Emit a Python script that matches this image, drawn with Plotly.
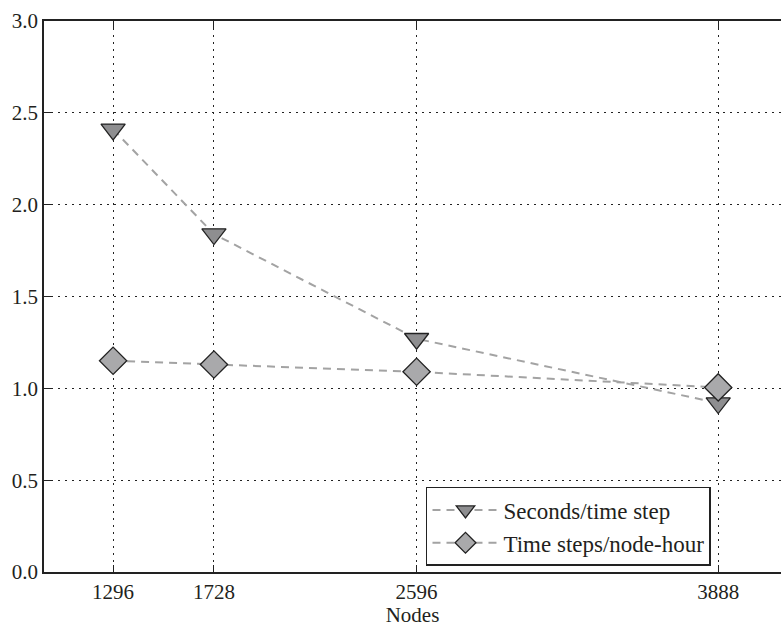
import plotly.graph_objects as go

nodes = [1296, 1728, 2596, 3888]
seconds_per_step = [2.41, 1.84, 1.27, 0.92]
steps_per_node_hour = [1.15, 1.13, 1.09, 1.005]
y_ticks = [0.0, 0.5, 1.0, 1.5, 2.0, 2.5, 3.0]

FONT = "Liberation Serif"
INK = "#231f20"
FS = 21

fig = go.Figure()
fig.add_trace(go.Scatter(
    x=nodes, y=seconds_per_step, name="Seconds/time step",
    mode="lines+markers",
    line=dict(color="#a3a3a3", width=2, dash="8px,6px"),
    marker=dict(symbol="triangle-down", size=21, color="#8e8e90",
                line=dict(color="#222222", width=1.3)),
))
fig.add_trace(go.Scatter(
    x=nodes, y=steps_per_node_hour, name="Time steps/node-hour",
    mode="lines+markers",
    line=dict(color="#a3a3a3", width=2, dash="8px,6px"),
    marker=dict(symbol="diamond", size=21, color="#a9a9ab",
                line=dict(color="#222222", width=1.3)),
))

fig.update_layout(
    width=781, height=627,
    margin=dict(l=44, r=0, t=21, b=55),
    paper_bgcolor="white", plot_bgcolor="white",
    font=dict(family=FONT, size=FS, color=INK),
    showlegend=True,
    legend=dict(
        x=0.905, xanchor="right", y=0.011, yanchor="bottom",
        bgcolor="white", bordercolor="#222222", borderwidth=1.5,
        font=dict(family=FONT, size=23, color=INK),
        tracegroupgap=2, itemwidth=66,
    ),
)
fig.update_xaxes(
    range=[1000, 4157],
    tickmode="array", tickvals=nodes, ticktext=[str(n) for n in nodes],
    ticks="inside", ticklen=7, tickcolor="#222222", tickwidth=1,
    showline=True, linecolor="#222222", linewidth=1.5, mirror="ticks",
    showgrid=True, gridcolor="#222222", gridwidth=1.2, griddash="2px,5px",
    zeroline=False,
    title=dict(text="Nodes", font=dict(family=FONT, size=FS, color=INK), standoff=3),
    tickfont=dict(family=FONT, size=FS, color=INK),
)
fig.update_yaxes(
    range=[0, 3.0],
    tickmode="array", tickvals=y_ticks, ticktext=[f"{v:.1f}" for v in y_ticks],
    ticks="inside", ticklen=7, tickcolor="#222222", tickwidth=1,
    showline=True, linecolor="#222222", linewidth=1.5, mirror=False,
    showgrid=True, gridcolor="#222222", gridwidth=1.2, griddash="2px,5px",
    zeroline=False,
    tickfont=dict(family=FONT, size=FS, color=INK),
)

fig.write_html("out.html")
